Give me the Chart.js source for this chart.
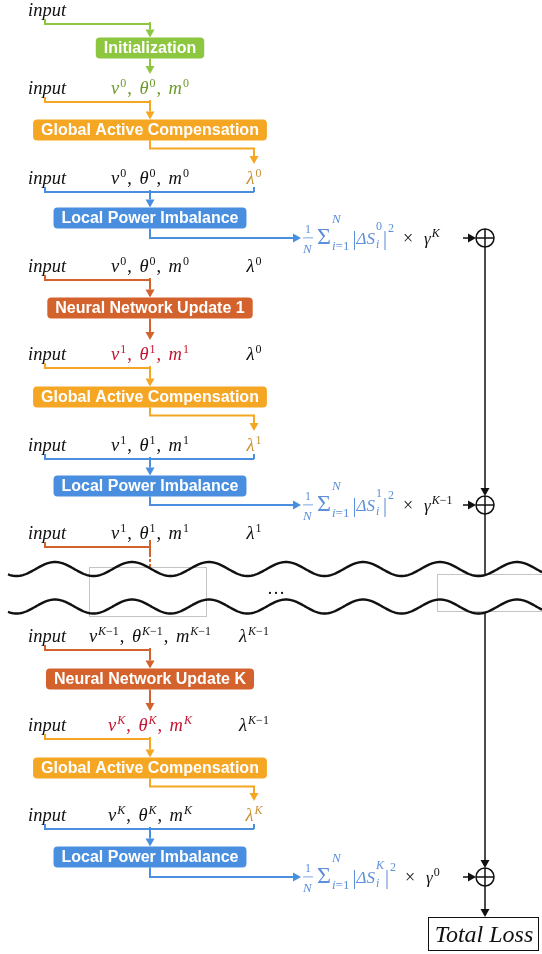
<!DOCTYPE html>
<html>
<head>
<meta charset="utf-8">
<script src="https://cdn.jsdelivr.net/npm/chart.js@4.4.1/dist/chart.umd.min.js"></script>
<style>
    html, body { margin: 0; padding: 0; background: #fff; }
    #wrap { position: relative; width: 542px; height: 954px; }
</style>
</head>
<body>
<div id="wrap"><canvas id="flowChart"></canvas></div>
<script>
// diagram content
const stageNames = ['Initialization', 'Global Active Compensation', 'Local Power Imbalance',
    'Neural Network Update 1', 'Global Active Compensation', 'Local Power Imbalance',
    'Neural Network Update K', 'Global Active Compensation', 'Local Power Imbalance'];
const stageKinds = ['init', 'gac', 'lpi', 'nn', 'gac', 'lpi', 'nn', 'gac', 'lpi'];
const rowState = [null, '0', '0', '0', '1', '1', '1', 'K\u22121', 'K', 'K'];
const rowLambda = [null, null, '0', '0', '0', '1', '1', 'K\u22121', 'K\u22121', 'K'];
const rowStateFrom = [null, 'init', null, null, 'nn', null, null, null, 'nn', null];
const rowLambdaFrom = [null, null, 'gac', null, null, 'gac', null, null, null, 'gac'];
const lossIndex = ['0', '1', 'K'];
const gammaPower = ['K', 'K\u22121', '0'];
const lossLabel = 'Total Loss';

// layout (diagram units = pixels of the 542 x 954 page)
const rowY = [10, 88, 178, 266, 354, 445, 533, 636, 725, 815];
const stageY = [48, 130, 218, 308, 397, 486, 679, 768, 857];
const lossY = [238, 505, 877];
const colInput = 45, colState = 150, colLambda = 254, colSum = 485;

const stageColors = { init: '#8dc63f', gac: '#f5a623', lpi: '#4a8fdf', nn: '#d4622c' };
const newStateColors = { init: '#6e9b2c', nn: '#c4132f' };
const lambdaColor = '#c99237';
const formulaColor = '#5d90d8';
const ink = '#111';

function font(size, it) {
    return (it ? 'italic ' : '') + size + 'px "Liberation Serif"';
}

function segs(str) {
    const out = [];
    let cur = '', curIt = null;
    for (const ch of str) {
        const it = /[A-Za-z\u03b1-\u03c9\u0394]/.test(ch);
        if (curIt !== null && it !== curIt) { out.push([cur, curIt]); cur = ''; }
        cur += ch;
        curIt = it;
    }
    if (cur) out.push([cur, curIt]);
    return out;
}

function runWidth(ctx, str, size) {
    let w = 0;
    for (const [s, it] of segs(str)) { ctx.font = font(size, it); w += ctx.measureText(s).width; }
    return w;
}

function drawRun(ctx, str, x, y, size) {
    for (const [s, it] of segs(str)) {
        ctx.font = font(size, it);
        ctx.fillText(s, x, y);
        x += ctx.measureText(s).width;
    }
    return x;
}

function tokenWidth(ctx, t) {
    if (t.frac) return 11 + (t.pad || 0);
    const size = t.size || 18.5, ss = t.ss || 12;
    let w = runWidth(ctx, t.b, size);
    const sw = Math.max(t.sup ? runWidth(ctx, t.sup, ss) : 0, t.sub ? runWidth(ctx, t.sub, ss) : 0);
    if (sw) w += 1 + sw;
    return w + (t.pad || 0);
}

// y = middle line of the text row
function drawMath(ctx, tokens, x, y, align) {
    const total = tokens.reduce((a, t) => a + tokenWidth(ctx, t), 0);
    if (align === 'center') x -= total / 2;
    ctx.textBaseline = 'alphabetic';
    ctx.textAlign = 'left';
    const base = y + 6;
    tokens.forEach(t => {
        ctx.fillStyle = t.c || ink;
        if (t.frac) {
            ctx.font = font(12, false);
            ctx.fillText(t.frac[0], x + 2, y - 5);
            ctx.font = font(13, true);
            ctx.fillText(t.frac[1], x, y + 15);
            ctx.fillRect(x, y - 0.5, 10, 0.8);
        } else {
            const size = t.size || 18.5, ss = t.ss || 12;
            const end = drawRun(ctx, t.b, x, base + (t.dy || 0), size);
            if (t.sup) drawRun(ctx, t.sup, end + 1, base + (t.supDy || -7), ss);
            if (t.sub) drawRun(ctx, t.sub, end + 1, base + (t.subDy || 5), ss);
        }
        x += tokenWidth(ctx, t);
    });
}

function stateTokens(idx, c) {
    return [
        { b: 'v', sup: idx, c, pad: 1 },
        { b: ',', c, pad: 7.5 },
        { b: '\u03b8', sup: idx, c, pad: 1 },
        { b: ',', c, pad: 7.5 },
        { b: 'm', sup: idx, c }
    ];
}

function lossTokens(k, g) {
    return [
        { frac: ['1', 'N'], c: formulaColor, pad: 3 },
        { b: '\u03a3', size: 24, sup: 'N', sub: 'i=1', supDy: -21, subDy: 6, ss: 13, c: formulaColor, pad: 3 },
        { b: '|', size: 20, dy: 1, c: formulaColor },
        { b: '\u0394S', size: 17, sup: k, sub: 'i', supDy: -14, subDy: 4, ss: 12, c: formulaColor, pad: 1 },
        { b: '|', size: 20, dy: 1, sup: '2', supDy: -12, ss: 12, c: formulaColor, pad: 9 },
        { b: '\u00d7', size: 18, pad: 11 },
        { b: '\u03b3', size: 17, sup: g, supDy: -7, ss: 12 }
    ];
}

function line(ctx, pts, color, width) {
    ctx.beginPath();
    ctx.moveTo(pts[0][0], pts[0][1]);
    pts.slice(1).forEach(p => ctx.lineTo(p[0], p[1]));
    ctx.strokeStyle = color;
    ctx.lineWidth = width;
    ctx.stroke();
}

function arrow(ctx, pts, color, width) {
    const n = pts.length, a = pts[n - 2], b = pts[n - 1];
    const len = Math.hypot(b[0] - a[0], b[1] - a[1]);
    const ux = (b[0] - a[0]) / len, uy = (b[1] - a[1]) / len;
    const head = 8, half = 4.5;
    const stop = [b[0] - ux * head, b[1] - uy * head];
    line(ctx, pts.slice(0, n - 1).concat([stop]), color, width);
    ctx.beginPath();
    ctx.moveTo(b[0], b[1]);
    ctx.lineTo(stop[0] - uy * half, stop[1] + ux * half);
    ctx.lineTo(stop[0] + uy * half, stop[1] - ux * half);
    ctx.closePath();
    ctx.fillStyle = color;
    ctx.fill();
}

function roundBox(ctx, cx, cy, w, h, r, color) {
    const x = cx - w / 2, y = cy - h / 2;
    ctx.beginPath();
    ctx.moveTo(x + r, y);
    ctx.arcTo(x + w, y, x + w, y + h, r);
    ctx.arcTo(x + w, y + h, x, y + h, r);
    ctx.arcTo(x, y + h, x, y, r);
    ctx.arcTo(x, y, x + w, y, r);
    ctx.closePath();
    ctx.fillStyle = color;
    ctx.fill();
}

function waveY(x, mid) {
    return mid - 7 * Math.cos(2 * Math.PI * (x - 55) / 77);
}

const diagramPlugin = {
    id: 'diagram',
    afterDatasetsDraw(chart) {
        const ctx = chart.ctx;
        const X = v => chart.scales.x.getPixelForValue(v);
        const Y = v => chart.scales.y.getPixelForValue(v);
        const P = (x, y) => [X(x), Y(y)];
        ctx.save();

        // text rows
        rowY.forEach((ry, r) => {
            drawMath(ctx, [{ b: 'input' }], X(47), Y(ry), 'center');
            if (rowState[r] !== null) {
                const c = rowStateFrom[r] ? newStateColors[rowStateFrom[r]] : ink;
                drawMath(ctx, stateTokens(rowState[r], c), X(colState), Y(ry), 'center');
            }
            if (rowLambda[r] !== null) {
                const c = rowLambdaFrom[r] ? lambdaColor : ink;
                drawMath(ctx, [{ b: '\u03bb', sup: rowLambda[r], c }], X(colLambda), Y(ry), 'center');
            }
        });

        // stages with their in / out connectors
        stageNames.forEach((name, s) => {
            const kind = stageKinds[s];
            const col = stageColors[kind];
            const feed = s <= 5 ? s : s + 1;
            const ry = rowY[feed], nextY = rowY[feed + 1];
            const by = stageY[s], top = by - 10.5, bot = by + 10.5;
            const bracket = ry + 14;
            const right = kind === 'lpi' ? colLambda : colState;
            line(ctx, [P(colInput, ry + 9), P(colInput, bracket), P(right, bracket)], col, 2);
            if (kind === 'lpi') line(ctx, [P(colLambda, ry + 9), P(colLambda, bracket)], col, 2);
            arrow(ctx, [P(colState, bracket - 2), P(colState, top)], col, 2);

            ctx.font = 'bold 16px "Liberation Sans"';
            const w = ctx.measureText(name).width + 16;
            roundBox(ctx, X(colState), Y(by), w, 21, 4, col);
            ctx.fillStyle = '#fff';
            ctx.textAlign = 'center';
            ctx.textBaseline = 'middle';
            ctx.fillText(name, X(colState), Y(by) + 1);

            if (kind === 'init' || kind === 'nn') {
                arrow(ctx, [P(colState, bot), P(colState, nextY - 14)], col, 2);
            } else if (kind === 'gac') {
                arrow(ctx, [P(colState, bot), P(colState, bot + 8), P(colLambda, bot + 8), P(colLambda, nextY - 14)], col, 2);
            } else {
                const k = Math.floor(s / 3);
                const ly = lossY[k];
                arrow(ctx, [P(colState, bot), P(colState, ly), P(301, ly)], col, 2);
                drawMath(ctx, lossTokens(lossIndex[k], gammaPower[k]), X(303), Y(ly), 'left');
                arrow(ctx, [P(463, ly), P(colSum - 9, ly)], ink, 1.5);
            }
        });

        // truncated update feeding the skipped steps
        const tr = rowY[6] + 14, nnCol = stageColors.nn;
        line(ctx, [P(colInput, rowY[6] + 9), P(colInput, tr), P(colState, tr)], nnCol, 2);
        line(ctx, [P(colState, tr - 7), P(colState, tr + 7)], nnCol, 2);
        ctx.setLineDash([3, 2]);
        line(ctx, [P(colState, tr + 7), P(colState, 572)], nnCol, 2);
        ctx.setLineDash([]);

        // loss accumulation column
        arrow(ctx, [P(colSum, lossY[0] + 9), P(colSum, lossY[1] - 9)], ink, 1.5);
        arrow(ctx, [P(colSum, lossY[1] + 9), P(colSum, lossY[2] - 9)], ink, 1.5);
        arrow(ctx, [P(colSum, lossY[2] + 9), P(colSum, 917)], ink, 1.5);
        lossY.forEach(ly => {
            ctx.beginPath();
            ctx.arc(X(colSum), Y(ly), 9, 0, 2 * Math.PI);
            ctx.fillStyle = '#fff';
            ctx.fill();
            ctx.strokeStyle = ink;
            ctx.lineWidth = 1.5;
            ctx.stroke();
            line(ctx, [P(colSum - 9, ly), P(colSum + 9, ly)], ink, 1.5);
            line(ctx, [P(colSum, ly - 9), P(colSum, ly + 9)], ink, 1.5);
        });

        // break between step 1 and step K
        ctx.beginPath();
        for (let x = 8; x <= 542; x += 1) ctx.lineTo(X(x), Y(waveY(x, 569)));
        for (let x = 542; x >= 8; x -= 1) ctx.lineTo(X(x), Y(waveY(x, 606.5)));
        ctx.closePath();
        ctx.fillStyle = '#fff';
        ctx.fill();
        ctx.strokeStyle = '#c4c4c4';
        ctx.lineWidth = 1;
        ctx.strokeRect(X(89) + 0.5, Y(567) + 0.5, 117, 49);
        ctx.strokeRect(X(437) + 0.5, Y(574) + 0.5, 110, 37);
        [569, 606.5].forEach(mid => {
            ctx.beginPath();
            for (let x = 8; x <= 542; x += 1) ctx.lineTo(X(x), Y(waveY(x, mid)));
            ctx.strokeStyle = ink;
            ctx.lineWidth = 2.4;
            ctx.stroke();
        });
        ctx.fillStyle = ink;
        ctx.font = font(18, false);
        ctx.textAlign = 'center';
        ctx.textBaseline = 'alphabetic';
        ctx.fillText('\u2026', X(276), Y(594));

        // total loss box
        ctx.strokeStyle = ink;
        ctx.lineWidth = 1;
        ctx.strokeRect(X(428) + 0.5, Y(917) + 0.5, 110, 33);
        ctx.font = font(24, true);
        ctx.fillText(lossLabel, X(484), Y(942));

        ctx.restore();
    }
};

new Chart(document.getElementById('flowChart'), {
    type: 'scatter',
    data: { datasets: [] },
    options: {
        responsive: true,
        maintainAspectRatio: false,
        animation: false,
        layout: { padding: 0 },
        plugins: { legend: { display: false }, tooltip: { enabled: false } },
        scales: {
            x: { type: 'linear', min: 0, max: 542, display: false },
            y: { type: 'linear', min: 0, max: 954, reverse: true, display: false }
        }
    },
    plugins: [diagramPlugin]
});
</script>
</body>
</html>
